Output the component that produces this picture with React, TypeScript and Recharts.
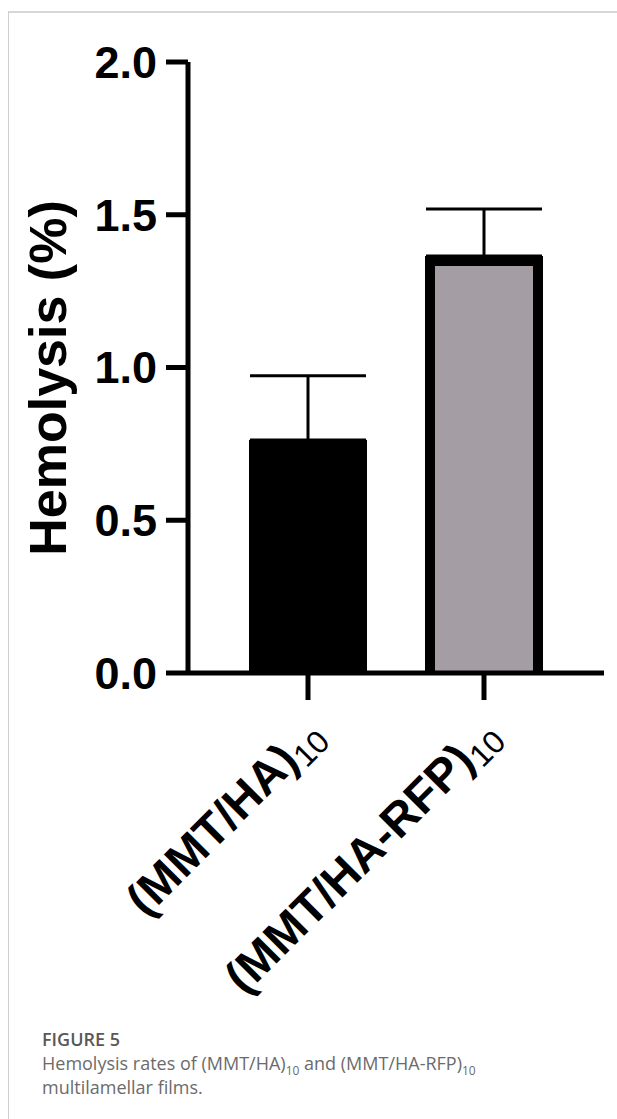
import React from "react";
import { BarChart, Bar, XAxis, YAxis, ErrorBar, Cell } from "recharts";

// values
const groups = ["(MMT/HA)", "(MMT/HA-RFP)"];
const hemolysis = [0.763, 1.365];
const sdUpper = [0.21, 0.154];
const barColors = ["#000000", "#a49ea4"];
const yTicks = [0, 0.5, 1, 1.5, 2];

const data = groups.map((name, i) => ({
  name,
  value: hemolysis[i],
  err: [0, sdUpper[i]],
}));

const FONT = "'Liberation Sans', Arial, Helvetica, sans-serif";

// bar with a thick outline on the top and sides only (bottom sits on the axis)
const BorderedBar = (props: any) => {
  const { x, y, width, height, fill } = props;
  if (height <= 0) return null;
  const b = 5;
  return (
    <g>
      <rect x={x} y={y} width={width} height={height} fill={fill} />
      <path
        d={`M${x + b},${y + height} V${y + b} H${x + width - b} V${y + height}`}
        fill="none"
        stroke="#000"
        strokeWidth={10}
      />
    </g>
  );
};

const GroupTick = (props: any) => {
  const { x, y, payload } = props;
  return (
    <g transform={`translate(${x + 18},${y + 36})`}>
      <text transform="rotate(-45)" textAnchor="end" fontFamily={FONT} fill="#000">
        <tspan fontSize={47} fontWeight="bold">
          {payload.value}
        </tspan>
        <tspan fontSize={32} fontWeight="normal" dy={8}>
          10
        </tspan>
      </text>
    </g>
  );
};

const YLabel = () => (
  <text
    x={66}
    y={378}
    transform="rotate(-90 66 378)"
    textAnchor="middle"
    fontFamily={FONT}
    fontSize={52}
    fontWeight="bold"
    fill="#000"
  >
    Hemolysis (%)
  </text>
);

export default function App() {
  return (
    <div
      style={{
        position: "absolute",
        left: 0,
        top: 0,
        width: 617,
        height: 1119,
        background: "#fff",
        overflow: "hidden",
      }}
    >
      <div
        style={{
          position: "absolute",
          left: 8,
          top: 11,
          width: 620,
          height: 1120,
          borderTop: "2px solid #d6d6d6",
          borderLeft: "1px solid #cfcfcf",
        }}
      />
      <div style={{ position: "absolute", left: 0, top: 0 }}>
        <BarChart
          width={617}
          height={1020}
          data={data}
          margin={{ top: 62, right: 13, bottom: 0, left: 0 }}
        >
          <XAxis
            dataKey="name"
            height={347}
            padding={{ left: 32, right: 32 }}
            axisLine={{ stroke: "#000", strokeWidth: 5 }}
            tickLine={{ stroke: "#000", strokeWidth: 5 }}
            tickSize={27}
            tick={<GroupTick />}
            interval={0}
          />
          <YAxis
            width={188}
            domain={[0, 2]}
            ticks={yTicks}
            interval={0}
            tickFormatter={(v: number) => v.toFixed(1)}
            axisLine={{ stroke: "#000", strokeWidth: 5 }}
            tickLine={{ stroke: "#000", strokeWidth: 5 }}
            tickSize={22}
            tickMargin={9}
            tick={{ fill: "#000", fontSize: 45, fontWeight: "bold", fontFamily: FONT }}
            label={<YLabel />}
          />
          <Bar dataKey="value" barSize={118} shape={<BorderedBar />} isAnimationActive={false}>
            {data.map((d, i) => (
              <Cell key={d.name} fill={barColors[i]} />
            ))}
            <ErrorBar
              dataKey="err"
              direction="y"
              width={58}
              stroke="#000"
              strokeWidth={3}
              isAnimationActive={false}
            />
          </Bar>
        </BarChart>
      </div>
      <div
        style={{
          position: "absolute",
          left: 42,
          top: 1027,
          fontFamily: "'Open Sans', 'Noto Sans', sans-serif",
          fontSize: 18,
          lineHeight: "24px",
          color: "#6b6b6b",
        }}
      >
        <div style={{ fontWeight: 600, color: "#585858" }}>FIGURE 5</div>
        <div>
          Hemolysis rates of (MMT/HA)<sub style={{ fontSize: 12, lineHeight: 0 }}>10</sub> and
          (MMT/HA-RFP)<sub style={{ fontSize: 12, lineHeight: 0 }}>10</sub>
        </div>
        <div>multilamellar films.</div>
      </div>
    </div>
  );
}
